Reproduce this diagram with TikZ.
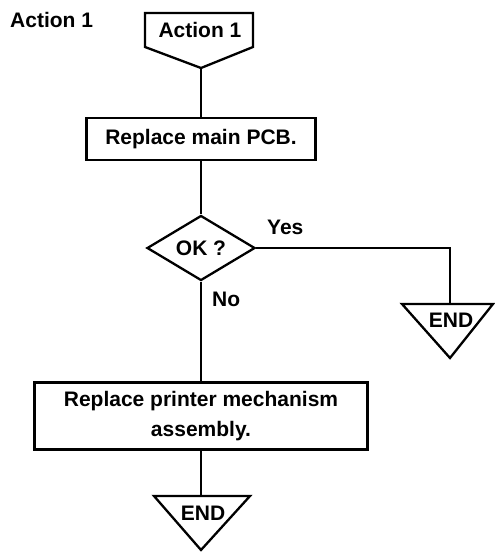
\documentclass[tikz,border=0pt]{standalone}
\usepackage{fontspec}
\setmainfont{Liberation Sans}
\usetikzlibrary{shapes.geometric}

\tikzset{
  flow/.style={line width=2.3pt},
  txt/.style={inner sep=0pt, font=\fontsize{21}{30}\selectfont\bfseries, align=center},
  procbox/.style={txt, draw, flow, rectangle},
  testbox/.style={txt, draw, flow, diamond, inner sep=0pt}
}

\begin{document}
\begin{tikzpicture}[x=1pt, y=-1pt]
      \useasboundingbox (0,0) rectangle (495,552);

      % heading
      \node[txt, anchor=west] (title) at (10,20) {Action 1};

      % start connector
      \node[txt] (start) at (200,30) {Action 1};
      \coordinate (startpt) at (201,68);
      \draw[flow, line join=miter] (145,13) -- (253,13) -- (253,47) -- (startpt) -- (145,47) -- cycle;

      \node[procbox, minimum width=229pt, minimum height=42pt] (pcb) at (201,139) {Replace main PCB.};
      \node[testbox, minimum width=108pt, minimum height=64pt] (ok) at (201,248) {OK ?};
      \node[procbox, minimum width=333pt, minimum height=67pt] (mech) at (201,416) {Replace printer mechanism\\assembly.};

      % end markers
      \node[txt] (endyes) at (451,320) {END};
      \coordinate (endyestop) at (450,304);
      \draw[flow, line join=miter] (402,304) -- (493,304) -- (450,358) -- cycle;
      \node[txt] (endno) at (203,513) {END};
      \coordinate (endnotop) at (201,496);
      \draw[flow, line join=miter] (154,496) -- (250,496) -- (201,550) -- cycle;

      \node[txt, anchor=south west] (yes) at (267,235) {Yes};
      \node[txt, anchor=north west] (no) at (212,292) {No};

      \draw[flow] (startpt) -- (pcb);
      \draw[flow] (pcb) -- (ok);
      \draw[flow] (ok.east) -| (endyestop);
      \draw[flow] (ok) -- (mech);
      \draw[flow] (mech) -- (endnotop);
    \end{tikzpicture}
\end{document}
